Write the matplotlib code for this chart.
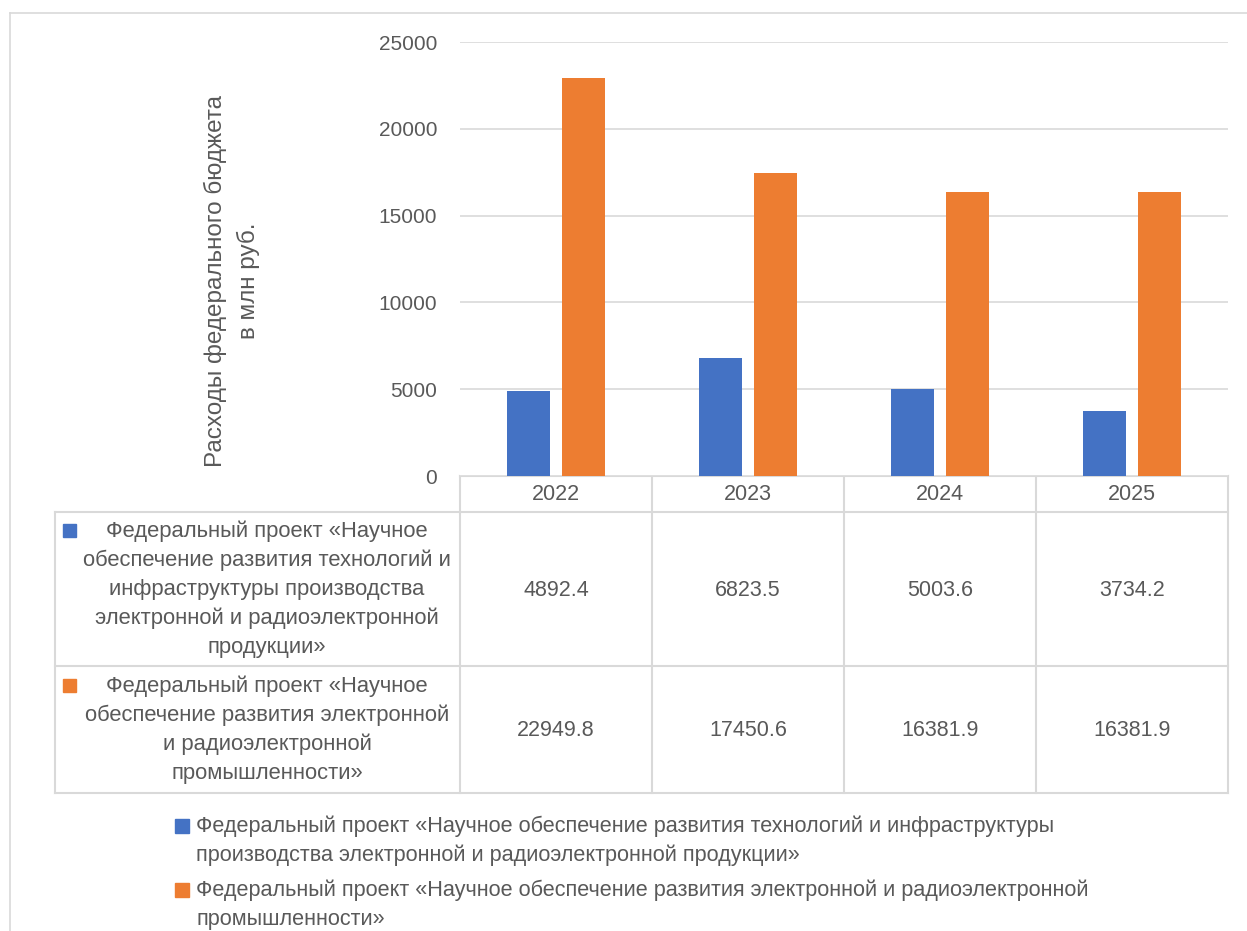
import matplotlib
matplotlib.use("Agg")
import matplotlib.pyplot as plt
from matplotlib.patches import Rectangle

plt.rcParams['font.family'] = ['Liberation Sans', 'DejaVu Sans']

# данные
years = ['2022', '2023', '2024', '2025']
tech_values = [4892.4, 6823.5, 5003.6, 3734.2]
industry_values = [22949.8, 17450.6, 16381.9, 16381.9]
table_labels = [
    ['Федеральный проект «Научное', 'обеспечение развития технологий и',
     'инфраструктуры производства', 'электронной и радиоэлектронной', 'продукции»'],
    ['Федеральный проект «Научное', 'обеспечение развития электронной',
     'и радиоэлектронной', 'промышленности»'],
]
legend_lines = [
    ['Федеральный проект «Научное обеспечение развития технологий и инфраструктуры',
     'производства электронной и радиоэлектронной продукции»'],
    ['Федеральный проект «Научное обеспечение развития электронной и радиоэлектронной',
     'промышленности»'],
]
yticks = [0, 5000, 10000, 15000, 20000, 25000]
colors = ['#4472C4', '#ED7D31']
text_c = '#595959'
grid_c = '#D9D9D9'
fs_text = 15.8
fs_num = 15.5

W, H = 1247, 931
fig = plt.figure(figsize=(W / 100, H / 100), dpi=100)

# overlay in pixel coords for the table, border and legend
ov = fig.add_axes([0, 0, 1, 1])
ov.set_xlim(0, W)
ov.set_ylim(H, 0)
ov.axis('off')

# plot area
x0, x1, y_top, y_bot = 460, 1228, 42, 476
ax = fig.add_axes([x0 / W, 1 - y_bot / H, (x1 - x0) / W, (y_bot - y_top) / H])
xs = list(range(len(years)))
bw = 0.22
off = 0.143
ax.bar([x - off for x in xs], tech_values, width=bw, color=colors[0], zorder=3)
ax.bar([x + off for x in xs], industry_values, width=bw, color=colors[1], zorder=3)
ax.set_xlim(-0.5, len(years) - 0.5)
ax.set_ylim(0, 25000)
ax.set_yticks(yticks)
ax.set_yticklabels([str(v) for v in yticks])
ax.tick_params(axis='y', length=0, pad=16.5, labelsize=15, labelcolor=text_c)
ax.set_xticks([])
ax.grid(axis='y', color=grid_c, linewidth=1.2, zorder=0)
for s in ax.spines.values():
    s.set_visible(False)

# y label
ov.text(232, 281, 'Расходы федерального бюджета\nв млн руб.', rotation=90,
        ha='center', va='center', fontsize=17.5, color=text_c, linespacing=1.5)

# outer border
ov.plot([10, W], [13, 13], color=grid_c, lw=1.2)
ov.plot([10, 10], [13, H], color=grid_c, lw=1.2)

# data table
col_x = [x0 + i * (x1 - x0) / len(years) for i in range(len(years) + 1)]
row_y = [476, 512, 666, 793]
lbl_left = 55
lc = '#D9D9D9'
ov.plot([x0, x1], [row_y[0], row_y[0]], color=lc, lw=1.5)
for y in row_y[1:]:
    ov.plot([lbl_left, x1], [y, y], color=lc, lw=1.5)
for x in col_x:
    ov.plot([x, x], [row_y[0], row_y[-1]], color=lc, lw=1.5)
ov.plot([lbl_left, lbl_left], [row_y[1], row_y[-1]], color=lc, lw=1.5)

for i, yr in enumerate(years):
    cx = (col_x[i] + col_x[i + 1]) / 2
    ov.text(cx, 494, yr, ha='center', va='center',
            fontsize=fs_num, color=text_c)
    ov.text(cx, 590, f'{tech_values[i]:.1f}',
            ha='center', va='center', fontsize=fs_num, color=text_c)
    ov.text(cx, 730, f'{industry_values[i]:.1f}',
            ha='center', va='center', fontsize=fs_num, color=text_c)

line_h = 29
for r, lines in enumerate(table_labels):
    top = [531, 686][r]
    ov.add_patch(Rectangle((63, top - 7), 13, 13, color=colors[r]))
    for k, ln in enumerate(lines):
        ov.text(267, top + k * line_h, ln, ha='center', va='center',
                fontsize=fs_text, color=text_c)

# legend
for r, lines in enumerate(legend_lines):
    top = [826, 890][r]
    ov.add_patch(Rectangle((175, top - 7), 14, 14, color=colors[r]))
    for k, ln in enumerate(lines):
        ov.text(196, top + k * line_h, ln, ha='left', va='center',
                fontsize=15.6, color=text_c)

fig.savefig('out.png', dpi=100)
